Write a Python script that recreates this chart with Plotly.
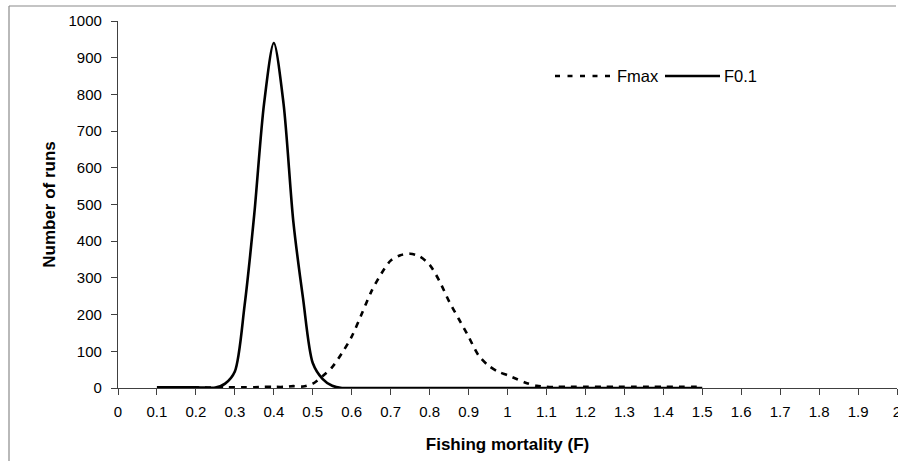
import plotly.graph_objects as go

# Fishing mortality grid (F)
F = [0.100, 0.125, 0.150, 0.175, 0.200, 0.225, 0.250, 0.275, 0.300, 0.325,
     0.350, 0.375, 0.400, 0.425, 0.450, 0.475, 0.500, 0.525, 0.550, 0.575,
     0.600, 0.625, 0.650, 0.675, 0.700, 0.725, 0.750, 0.775, 0.800, 0.825,
     0.850, 0.875, 0.900, 0.925, 0.950, 0.975, 1.000, 1.025, 1.050, 1.075,
     1.100, 1.125, 1.150, 1.175, 1.200, 1.225, 1.250, 1.275, 1.300, 1.325,
     1.350, 1.375, 1.400, 1.425, 1.450, 1.475, 1.500]

# Number of runs, Fmax
fmax_runs = [2, 2, 2, 2, 2, 1, 1, 2, 2, 2,
             2, 3, 3, 3, 5, 4, 12, 32, 57, 95,
             140, 200, 262, 310, 347, 362, 366, 358, 336, 292,
             236, 188, 140, 90, 62, 45, 35, 24, 13, 6,
             3, 3, 3, 3, 3, 3, 3, 3, 3, 3,
             3, 3, 3, 3, 3, 3, 3]

# Number of runs, F0.1
f01_runs = [2, 2, 2, 2, 2, 1, 1, 12, 45, 225,
            475, 775, 940, 775, 455, 245, 68, 25, 6, 0,
            0, 0, 0, 0, 0, 0, 0, 0, 0, 0,
            0, 0, 0, 0, 0, 0, 0, 0, 0, 0,
            0, 0, 0, 0, 0, 0, 0, 0, 0, 0,
            0, 0, 0, 0, 0, 0, 0]

series_names = ["Fmax", "F0.1"]
x_title = "Fishing mortality (F)"
y_title = "Number of runs"

FONT = "Liberation Sans, Arial, sans-serif"

fig = go.Figure()
fig.add_trace(go.Scatter(x=F, y=f01_runs, mode="lines", name=series_names[1],
                         line=dict(color="black", width=2.6, shape="spline", smoothing=0.8)))
fig.add_trace(go.Scatter(x=F, y=fmax_runs, mode="lines", name=series_names[0],
                         line=dict(color="black", width=2.6, dash="6px,6px", shape="spline", smoothing=0.8)))

W, H = 898, 461
L, R, T, B = 118, 1, 21, 73
pw, ph = W - L - R, H - T - B

def px(xp):
    return (xp - L) / pw

def py(yp):
    return (H - B - yp) / ph

frame = dict(color="#8a8a8a", width=1.2)
shapes = [
    # outer frame (top and left edges visible in the picture)
    dict(type="line", xref="paper", yref="paper", x0=px(9), x1=px(896), y0=py(6), y1=py(6), line=frame, layer="below"),
    dict(type="line", xref="paper", yref="paper", x0=px(9), x1=px(9), y0=py(6), y1=py(461), line=frame, layer="below"),
    # legend samples
    dict(type="line", xref="paper", yref="paper", x0=px(555), x1=px(611), y0=py(76), y1=py(76),
         line=dict(color="black", width=2.6, dash="5px,7.5px")),
    dict(type="line", xref="paper", yref="paper", x0=px(665), x1=px(720), y0=py(76), y1=py(76),
         line=dict(color="black", width=2.6)),
]

annotations = [
    dict(text=series_names[0], xref="paper", yref="paper", x=px(615), y=py(76),
         xanchor="left", yanchor="middle", showarrow=False,
         font=dict(family=FONT, size=16.5, color="black")),
    dict(text=series_names[1], xref="paper", yref="paper", x=px(722), y=py(76),
         xanchor="left", yanchor="middle", showarrow=False,
         font=dict(family=FONT, size=16.5, color="black")),
]

fig.update_layout(
    width=W, height=H,
    margin=dict(l=L, r=R, t=T, b=B, pad=0, autoexpand=False),
    paper_bgcolor="white", plot_bgcolor="white",
    showlegend=False,
    font=dict(family=FONT, size=15, color="black"),
    shapes=shapes,
    annotations=annotations,
    xaxis=dict(
        range=[0, 2], dtick=0.1, tick0=0, showgrid=False, zeroline=False,
        showline=True, linecolor="#404040", linewidth=1.3, automargin=False,
        ticks="outside", ticklen=6, tickwidth=1.2, tickcolor="#404040",
        ticklabelstandoff=4, ticklabeloverflow="allow",
        tickfont=dict(family=FONT, size=15, color="black"),
        title=dict(text="<b>" + x_title + "</b>", font=dict(family=FONT, size=17, color="black"), standoff=18),
    ),
    yaxis=dict(
        range=[0, 1000], dtick=100, tick0=0, showgrid=False, zeroline=False,
        showline=True, linecolor="#404040", linewidth=1.3, automargin=False,
        ticks="outside", ticklen=6, tickwidth=1.2, tickcolor="#404040",
        ticklabelstandoff=6,
        tickfont=dict(family=FONT, size=15, color="black"),
        title=dict(text="<b>" + y_title + "</b>", font=dict(family=FONT, size=17, color="black"), standoff=8),
    ),
)

fig.write_html(
    "out.html",
    config={"displayModeBar": False},
    post_script="document.body.style.margin='0';document.body.style.overflow='hidden';",
)
